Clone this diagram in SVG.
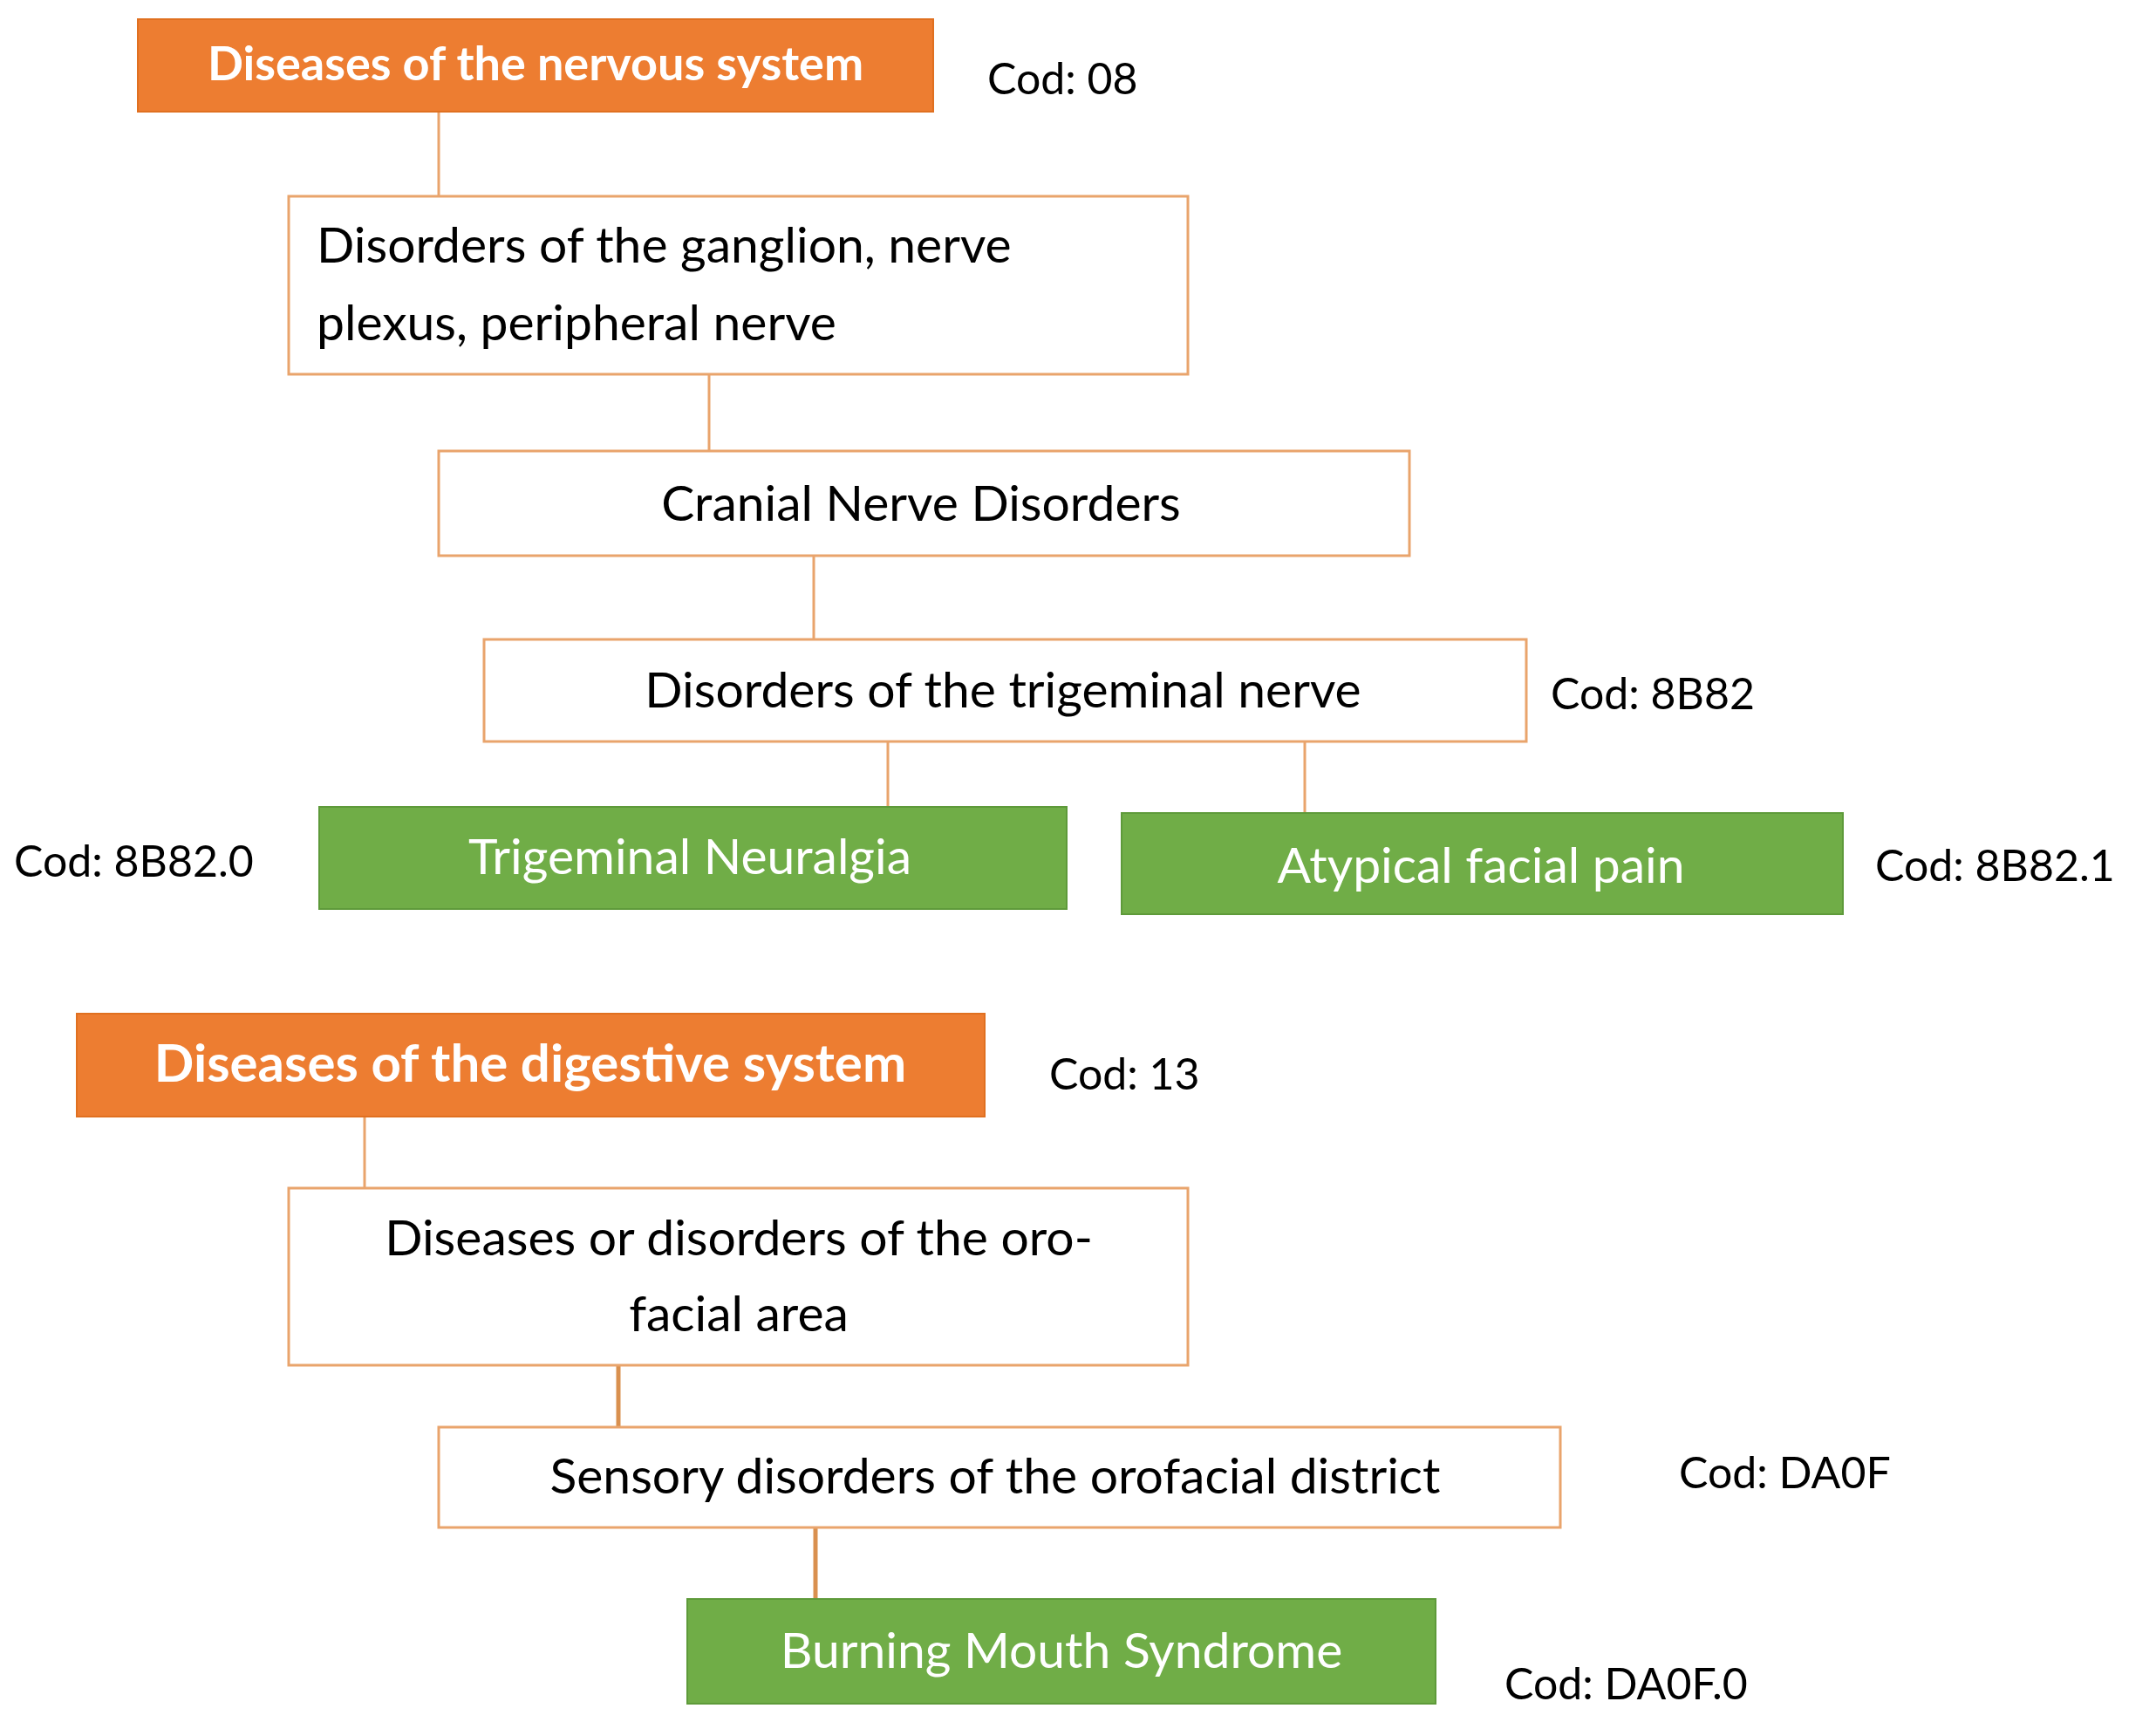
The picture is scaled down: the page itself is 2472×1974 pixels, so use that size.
<svg xmlns="http://www.w3.org/2000/svg" width="2472" height="1974" viewBox="0 0 2472 1974">
<style>
.o{fill:#ED7D31;stroke:#E07020;stroke-width:2}
.g{fill:#70AD47;stroke:#5E9A3A;stroke-width:2}
.w{fill:#fff;stroke:#E9A46C;stroke-width:3}
text{font-family:Lato,"Open Sans","Liberation Sans",sans-serif}
.bt{font-size:57px;fill:#000}
.wt{font-size:57px;fill:#fff}
.ot{font-size:54px;fill:#fff;font-weight:bold}
.c{font-size:50px;fill:#000}
.m{text-anchor:middle}
.l{stroke:#E9A46C;stroke-width:3;fill:none}
</style>
<rect width="2472" height="1974" fill="#fff"/>
<g id="connectors">
<line class="l" x1="503" y1="128" x2="503" y2="225"/>
<line class="l" x1="813" y1="429" x2="813" y2="517"/>
<line class="l" x1="933" y1="637" x2="933" y2="733"/>
<line class="l" x1="1018" y1="850" x2="1018" y2="925"/>
<line class="l" x1="1496" y1="850" x2="1496" y2="932"/>
<line class="l" x1="418" y1="1280" x2="418" y2="1362"/>
<line class="l" x1="709" y1="1565" x2="709" y2="1636" style="stroke-width:5;stroke:#D9904F"/>
<line class="l" x1="935" y1="1751" x2="935" y2="1833" style="stroke-width:5;stroke:#D9904F"/>
</g>
<g id="n1"><rect class="o" x="158" y="22" width="912" height="106"/><text class="ot m" x="614" y="92">Diseases of the nervous system</text></g>
<text class="c" x="1132" y="108">Cod: 08</text>
<g id="n2"><rect class="w" x="331" y="225" width="1031" height="204"/><text class="bt" x="363" y="301">Disorders of the ganglion, nerve</text><text class="bt" x="363" y="390">plexus, peripheral nerve</text></g>
<g id="n3"><rect class="w" x="503" y="517" width="1113" height="120"/><text class="bt m" x="1056" y="597">Cranial Nerve Disorders</text></g>
<g id="n4"><rect class="w" x="555" y="733" width="1195" height="117"/><text class="bt m" x="1150" y="811">Disorders of the trigeminal nerve</text></g>
<text class="c" x="1778" y="813">Cod: 8B82</text>
<g id="n5"><rect class="g" x="366" y="925" width="857" height="117"/><text class="wt m" x="791" y="1002">Trigeminal Neuralgia</text></g>
<text class="c" x="16" y="1005">Cod: 8B82.0</text>
<g id="n6"><rect class="g" x="1286" y="932" width="827" height="116"/><text class="wt m" x="1698" y="1012">Atypical facial pain</text></g>
<text class="c" x="2150" y="1010">Cod: 8B82.1</text>
<g id="n7"><rect class="o" x="88" y="1162" width="1041" height="118"/><text class="ot m" x="608" y="1240" style="font-size:60px">Diseases of the digestive system</text></g>
<text class="c" x="1203" y="1249">Cod: 13</text>
<g id="n8"><rect class="w" x="331" y="1362" width="1031" height="203"/><text class="bt m" x="847" y="1439">Diseases or disorders of the oro-</text><text class="bt m" x="847" y="1526">facial area</text></g>
<g id="n9"><rect class="w" x="503" y="1636" width="1286" height="115"/><text class="bt m" x="1141" y="1712">Sensory disorders of the orofacial district</text></g>
<text class="c" x="1925" y="1706">Cod: DA0F</text>
<g id="n10"><rect class="g" x="788" y="1833" width="858" height="120"/><text class="wt m" x="1217" y="1912">Burning Mouth Syndrome</text></g>
<text class="c" x="1725" y="1948">Cod: DA0F.0</text>
</svg>
